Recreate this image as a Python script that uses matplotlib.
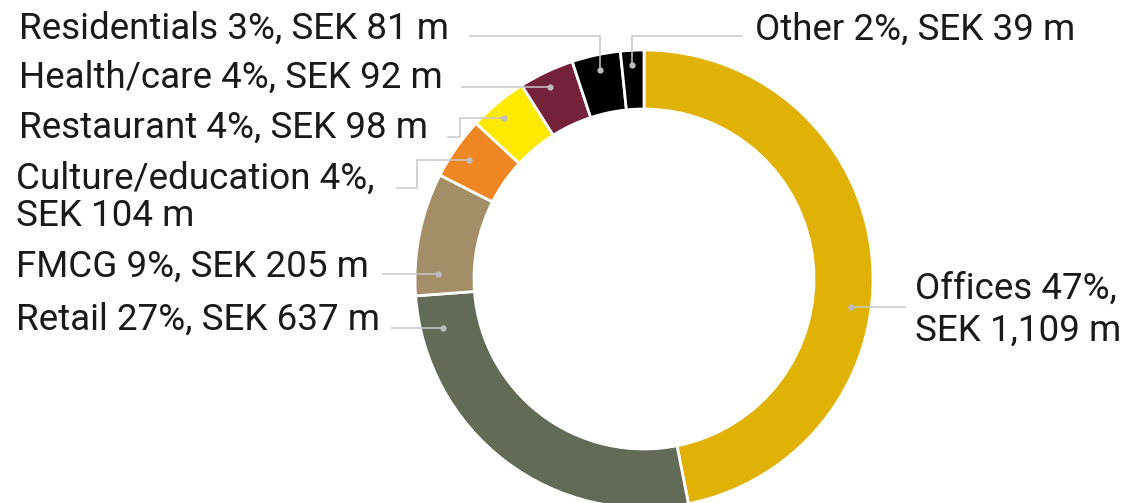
import matplotlib

matplotlib.use("Agg")
import matplotlib.pyplot as plt

W, H = 1123, 503

# data: rent by tenant category, SEK m
categories = ["Offices", "Retail", "FMCG", "Culture/education", "Restaurant",
              "Health/care", "Residentials", "Other"]
values = [1109, 637, 205, 104, 98, 92, 81, 39]
shares = [47, 27, 9, 4, 4, 4, 3, 2]
colors = ["#E0B206", "#626B58", "#A38E68", "#EE8624", "#FEE900",
          "#74213A", "#000000", "#000000"]

# label layout: left x and baseline y of each text line (pixels, y from top)
label_pos = {
    "Offices": [(915, 299), (915, 341)],
    "Retail": [(16, 330)],
    "FMCG": [(16, 277)],
    "Culture/education": [(16, 189), (16, 226)],
    "Restaurant": [(19, 138)],
    "Health/care": [(19, 88)],
    "Residentials": [(19, 39)],
    "Other": [(755, 40)],
}
leaders = {
    "Offices": [(905, 307), (851, 307)],
    "Retail": [(392, 328), (443, 328)],
    "FMCG": [(383, 274), (438, 274)],
    "Culture/education": [(397, 188), (417, 188), (417, 160), (469, 160)],
    "Restaurant": [(448, 137), (460, 137), (460, 118), (504, 118)],
    "Health/care": [(462, 87), (550, 87)],
    "Residentials": [(470, 36), (600, 36), (600, 70)],
    "Other": [(742, 36), (632, 36), (632, 65)],
}

CX, CY, R, RING = 644, 279, 229, 59


def fy(y):
    return H - y


def main():
    plt.rcParams["font.family"] = ["Roboto", "DejaVu Sans"]
    fig = plt.figure(figsize=(W / 100, H / 100), dpi=100)
    ax = fig.add_axes([0, 0, 1, 1])
    ax.pie(values, colors=colors, startangle=90, counterclock=False,
           radius=R, center=(CX, fy(CY)),
           wedgeprops=dict(width=RING, edgecolor="white", linewidth=2))
    ax.set_xlim(0, W)
    ax.set_ylim(0, H)
    ax.set_aspect("equal")
    ax.axis("off")

    for cat, val, pct in zip(categories, values, shares):
        pts = leaders[cat]
        ax.plot([p[0] for p in pts], [fy(p[1]) for p in pts], color="#C8C8C8", lw=1.1)
        ax.plot(pts[-1][0], fy(pts[-1][1]), "o", color="#BDBDBD", ms=3.5)
        pos = label_pos[cat]
        if len(pos) == 2:
            lines = [f"{cat} {pct}%,", f"SEK {val:,} m"]
        else:
            lines = [f"{cat} {pct}%, SEK {val:,} m"]
        for line, (x, y) in zip(lines, pos):
            ax.text(x, fy(y), line, ha="left", va="baseline", fontsize=26.5,
                    color="#1A1A1A")

    fig.savefig("out.png", dpi=100)
    plt.close(fig)


if __name__ == "__main__":
    main()
